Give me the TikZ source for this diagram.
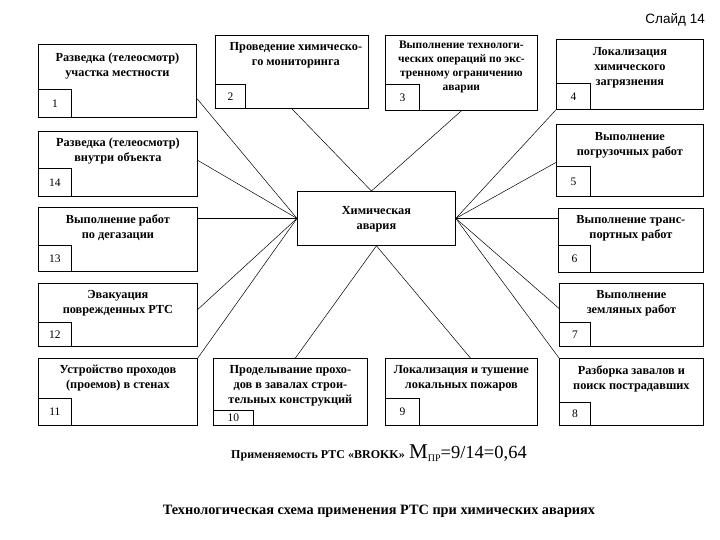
\documentclass[tikz,border=0pt]{standalone}
\usepackage{fontspec}
\setmainfont{Liberation Serif}
\newfontfamily\arialf{Liberation Sans}
\usetikzlibrary{calc}
\begin{document}
\begin{tikzpicture}[x=1pt,y=-1pt,
  box/.style={draw, line width=0.8pt, inner sep=0pt, anchor=north west},
  numbox/.style={draw, line width=0.8pt, inner sep=0pt, anchor=south west, font=\fontsize{11.5}{12}\selectfont},
  txt/.style={font=\fontsize{12.3}{15}\selectfont\bfseries, align=center, anchor=north, inner sep=0pt},
  smalltxt/.style={font=\fontsize{11.5}{14}\selectfont\bfseries, align=center, anchor=north, inner sep=0pt},
  conn/.style={line width=0.5pt}]
\useasboundingbox[fill=white] (0,0) rectangle (720,540);

% main boxes
\node[box, minimum width=158, minimum height=73] (b1) at (38,44) {};
\node[box, minimum width=153, minimum height=73] (b2) at (215,35) {};
\node[box, minimum width=152, minimum height=75] (b3) at (385,35) {};
\node[box, minimum width=147, minimum height=70] (b4) at (556,39) {};
\node[box, minimum width=159, minimum height=65] (b14) at (38,131) {};
\node[box, minimum width=147, minimum height=72] (b5) at (556,124) {};
\node[box, minimum width=159, minimum height=64] (b13) at (38,207) {};
\node[box, minimum width=145, minimum height=64] (b6) at (558,208) {};
\node[box, minimum width=159, minimum height=63] (b12) at (38,283) {};
\node[box, minimum width=144, minimum height=63] (b7) at (559,283) {};
\node[box, minimum width=159, minimum height=67] (b11) at (38,358) {};
\node[box, minimum width=154, minimum height=67] (b10) at (213,358) {};
\node[box, minimum width=152, minimum height=67] (b9) at (385,358) {};
\node[box, minimum width=144, minimum height=67] (b8) at (559,358) {};

% centre box
\node[box, minimum width=158, minimum height=54] (c) at (297,191) {};
\node[txt, anchor=center] (ct) at ([yshift=-1pt]c.center) {Химическая\\авария};

% number boxes
\node[numbox, minimum width=33, minimum height=28] (n1) at (b1.south west) {1};
\node[numbox, minimum width=30, minimum height=24] (n2) at (b2.south west) {2};
\node[numbox, minimum width=34, minimum height=26] (n3) at (b3.south west) {3};
\node[numbox, minimum width=34, minimum height=26] (n4) at (b4.south west) {4};
\node[numbox, minimum width=34, minimum height=30] (n5) at (b5.south west) {5};
\node[numbox, minimum width=32, minimum height=27] (n6) at (b6.south west) {6};
\node[numbox, minimum width=31, minimum height=24] (n7) at (b7.south west) {7};
\node[numbox, minimum width=31, minimum height=23] (n8) at (b8.south west) {8};
\node[numbox, minimum width=34, minimum height=27] (n9) at (b9.south west) {9};
\node[numbox, minimum width=40, minimum height=15] (n10) at (b10.south west) {10};
\node[numbox, minimum width=33, minimum height=27] (n11) at (b11.south west) {11};
\node[numbox, minimum width=33, minimum height=24] (n12) at (b12.south west) {12};
\node[numbox, minimum width=33, minimum height=26] (n13) at (b13.south west) {13};
\node[numbox, minimum width=33, minimum height=28] (n14) at (b14.south west) {14};

% box texts
\node[txt] (t1) at ($(b1.north)+(0,9)$) {Разведка (телеосмотр)\\участка местности};
\node[txt] (t2) at ($(b2.north)+(4,7)$) {Проведение химическо-\\го мониторинга};
\node[smalltxt] (t3) at ($(b3.north)+(0,6)$) {Выполнение технологи-\\ческих операций по экс-\\тренному ограничению\\аварии};
\node[txt] (t4) at ($(b4.north)+(0,8)$) {Локализация\\химического\\загрязнения};
\node[txt] (t5) at ($(b5.north)+(0,8)$) {Выполнение\\погрузочных работ};
\node[txt] (t6) at ($(b6.north)+(0,7)$) {Выполнение транс-\\портных работ};
\node[txt] (t7) at ($(b7.north)+(0,7)$) {Выполнение\\земляных работ};
\node[txt] (t8) at ($(b8.north)+(0,7)$) {Разборка завалов и\\поиск пострадавших};
\node[txt] (t9) at ($(b9.north)+(0,7)$) {Локализация и тушение\\локальных пожаров};
\node[txt] (t10) at ($(b10.north)+(0,7)$) {Проделывание прохо-\\дов в завалах строи-\\тельных конструкций};
\node[txt] (t11) at ($(b11.north)+(0,7)$) {Устройство проходов\\(проемов) в стенах};
\node[txt] (t12) at ($(b12.north)+(0,7)$) {Эвакуация\\поврежденных РТС};
\node[txt] (t13) at ($(b13.north)+(0,7)$) {Выполнение работ\\по дегазации};
\node[txt] (t14) at ($(b14.north)+(0,7)$) {Разведка (телеосмотр)\\внутри объекта};

% connectors
\draw[conn] ([yshift=-17.5pt]b1.east) -- (c.west);
\draw[conn] ([yshift=3.5pt]b14.east) -- (c.west);
\draw[conn] (c.west -| b13.east) -- (c.west);
\draw[conn] ([yshift=5.5pt]b12.east) -- (c.west);
\draw[conn] (b11.north east) -- (c.west);
\draw[conn] ([xshift=5pt]b10.north) -- (c.south);
\draw[conn] ([xshift=9pt]b9.north) -- (c.south);
\draw[conn] (b8.north west) -- (c.east);
\draw[conn] ([yshift=6.5pt]b7.west) -- (c.east);
\draw[conn] (c.east) -- (c.east -| b6.west);
\draw[conn] ([yshift=-2pt]b5.west) -- (c.east);
\draw[conn] (b4.south west) -- (c.east);
\draw[conn] (b3.south) -- ([xshift=-5pt]c.north);
\draw[conn] (b2.south) -- ([xshift=-5pt]c.north);

% header and footer
\node[anchor=east, inner sep=0pt, font=\arialf\fontsize{13.5}{15}\selectfont] (slide) at (705,20) {Слайд 14};
\node[anchor=east, inner sep=0pt, font=\fontsize{12}{13}\selectfont\bfseries] (appl) at (405,456) {Применяемость РТС «BROKK»};
\node[anchor=west, inner sep=0pt] (mpr) at (409,453) {{\fontsize{21}{21}\selectfont M}{\fontsize{10}{10}\selectfont\raisebox{-3pt}{ПР}}{\fontsize{18.5}{18}\selectfont =9/14=0,64}};
\node[inner sep=0pt, font=\fontsize{14.3}{16}\selectfont\bfseries] (title) at (379,511) {Технологическая схема применения РТС при химических авариях};
\end{tikzpicture}
\end{document}
